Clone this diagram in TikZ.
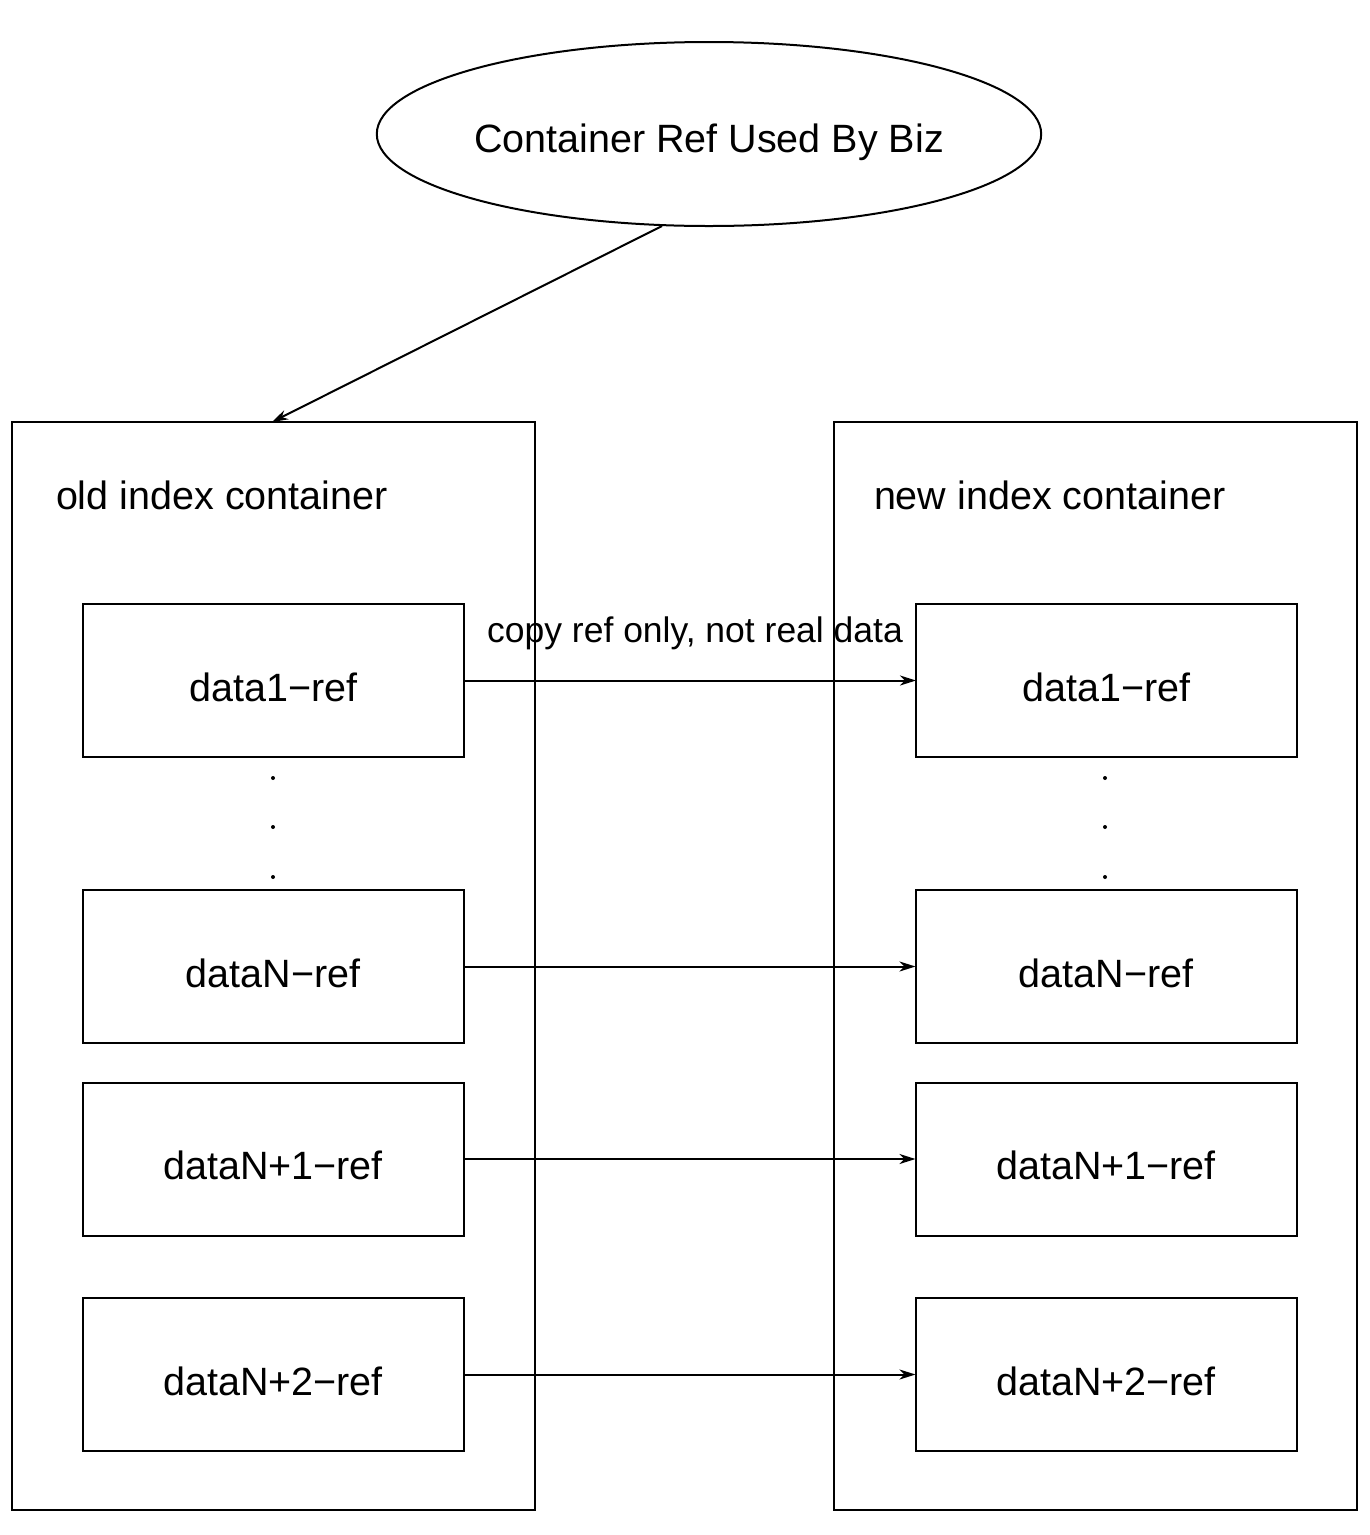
\documentclass[tikz,border=0pt]{standalone}
\usepackage{fontspec}
\setmainfont{Liberation Sans}
\usetikzlibrary{shapes.geometric,arrows.meta,calc}
\begin{document}
\begin{tikzpicture}[x=1pt,y=-1pt,
  line width=2pt,
  every node/.style={inner sep=0pt, outer sep=0pt},
  bigtxt/.style={font=\fontsize{39.5}{44}\selectfont},
  boxtxt/.style={font=\fontsize{39.5}{44}\selectfont, text height=41pt, text depth=0pt},
  midtxt/.style={font=\fontsize{35.5}{40}\selectfont},
  container/.style={draw, minimum width=523pt, minimum height=1088pt},
  refbox/.style={draw, minimum width=381pt, minimum height=153pt, boxtxt},
  arr/.style={-{Stealth[length=16pt,width=10pt,inset=5pt]}, line width=2pt},
  dot/.style={circle, fill=black, minimum size=4pt}
]
\useasboundingbox (0,0) rectangle (1370,1535);

\node[draw, ellipse, minimum width=662pt, minimum height=184pt, bigtxt, text height=36pt, text depth=0pt] (biz) at (709,134) {Container Ref Used By Biz};

\node[container] (old) at (273.5,966) {};
\node[container] (new) at (1095.5,965.5) {};

\node[bigtxt, anchor=base west] (oldt) at (56,509) {old index container};
\node[bigtxt, anchor=base west] (newt) at (874,509) {new index container};

\node[refbox] (o1) at (273.5,680.5) {data1−ref};
\node[refbox] (oN) at (273,966.5) {dataN−ref};
\node[refbox] (oN1) at (273,1159) {dataN+1−ref};
\node[refbox] (oN2) at (273,1374.5) {dataN+2−ref};

\node[refbox] (n1) at (1106.5,680.5) {data1−ref};
\node[refbox] (nN) at (1106,966.5) {dataN−ref};
\node[refbox] (nN1) at (1106,1159) {dataN+1−ref};
\node[refbox] (nN2) at (1106,1374.5) {dataN+2−ref};

\node[dot] (od1) at (273,778) {};
\node[dot] (od2) at (273,827) {};
\node[dot] (od3) at (273,877) {};
\node[dot] (nd1) at (1105,778) {};
\node[dot] (nd2) at (1105,827) {};
\node[dot] (nd3) at (1105,877) {};

\coordinate (oldtop) at (272,422);
\coordinate (bizfoot) at ($(biz.south)+(-47,0)$);
\draw[arr] (bizfoot) -- (oldtop);

\draw[arr] (o1.east) -- (n1.west) node[pos=0.5, midtxt, anchor=base, yshift=38pt, xshift=5pt] (lbl) {copy ref only, not real data};
\draw[arr] (oN.east) -- (nN.west);
\draw[arr] (oN1.east) -- (nN1.west);
\draw[arr] (oN2.east) -- (nN2.west);
\end{tikzpicture}
\end{document}
